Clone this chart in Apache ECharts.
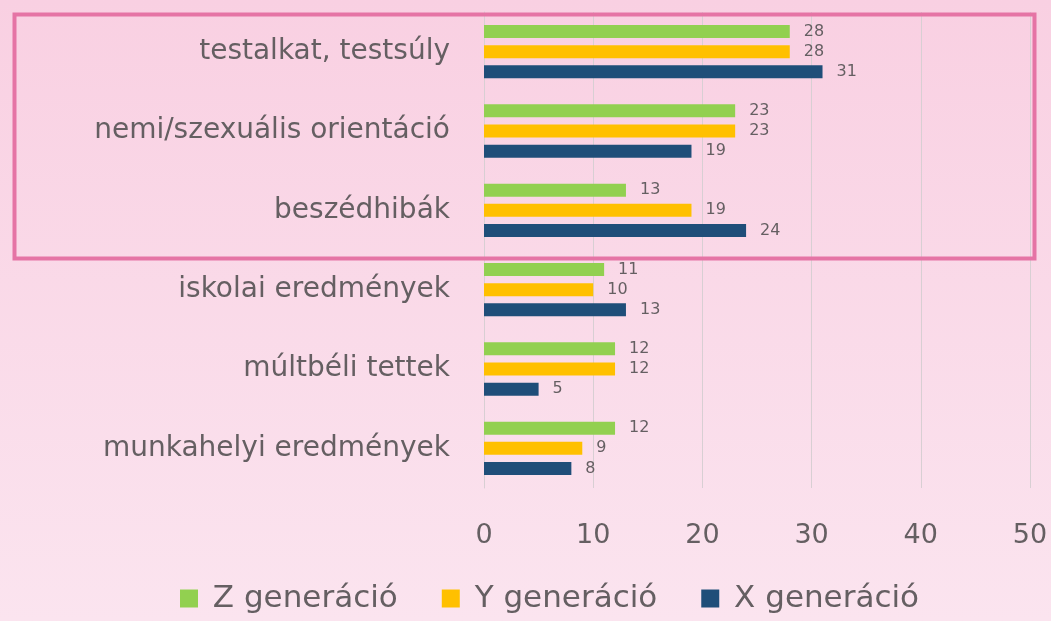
<!DOCTYPE html>
<html>
<head>
<meta charset="utf-8">
<script src="https://cdn.jsdelivr.net/npm/echarts@6/dist/echarts.min.js"></script>
<style>
  html, body { margin: 0; padding: 0; }
  #chart { width: 1051px; height: 621px; background: linear-gradient(#f9d0e2, #fbe4ef); }
</style>
</head>
<body>
<div id="chart"></div>
<script>
var categories = ['testalkat, testsúly', 'nemi/szexuális orientáció', 'beszédhibák', 'iskolai eredmények', 'múltbéli tettek', 'munkahelyi eredmények'];
var zGen = [28, 23, 13, 11, 12, 12];
var yGen = [28, 23, 19, 10, 12, 9];
var xGen = [31, 19, 24, 13, 5, 8];
var xTicks = [0, 10, 20, 30, 40, 50];

var chart = echarts.init(document.getElementById('chart'));
var font = 'DejaVu Sans';
var txt = '#655f62';

function bar(name, data, color) {
    return {
        name: name,
        type: 'bar',
        data: data,
        barWidth: 13,
        barGap: '55%',
        barCategoryGap: '33%',
        itemStyle: { color: color },
        label: {
            show: true,
            position: 'right',
            distance: 14,
            color: txt,
            fontFamily: font,
            fontSize: 16
        }
    };
}

var option = {
    animation: false,
    grid: { left: 484, right: 21, top: 12, bottom: 133 },
    legend: {
        bottom: 2,
        left: 175,
        itemWidth: 18,
        itemHeight: 18,
        itemGap: 44,
        icon: 'rect',
        formatter: ' {name}',
        textStyle: { color: txt, fontFamily: font, fontSize: 31 }
    },
    xAxis: {
        type: 'value',
        min: xTicks[0],
        max: xTicks[xTicks.length - 1],
        interval: 10,
        axisLine: { show: false },
        axisTick: { show: false },
        splitLine: { lineStyle: { color: '#d8cfd3', width: 1 } },
        axisLabel: { color: txt, fontFamily: font, fontSize: 27, margin: 34 }
    },
    yAxis: {
        type: 'category',
        data: categories,
        inverse: true,
        axisLine: { lineStyle: { color: '#d8cfd3' } },
        axisTick: { length: 8, lineStyle: { color: '#d8cfd3' } },
        axisLabel: { color: txt, fontFamily: font, fontSize: 28, margin: 34 }
    },
    series: [
        bar('Z generáció', zGen, '#92d050'),
        bar('Y generáció', yGen, '#ffc000'),
        bar('X generáció', xGen, '#1f4e79')
    ],
    graphic: [{
        type: 'rect',
        left: 12,
        top: 12,
        shape: { width: 1020, height: 244 },
        style: { fill: null, stroke: '#e574a5', lineWidth: 4 },
        z: 100
    }]
};
chart.setOption(option);
</script>
</body>
</html>
